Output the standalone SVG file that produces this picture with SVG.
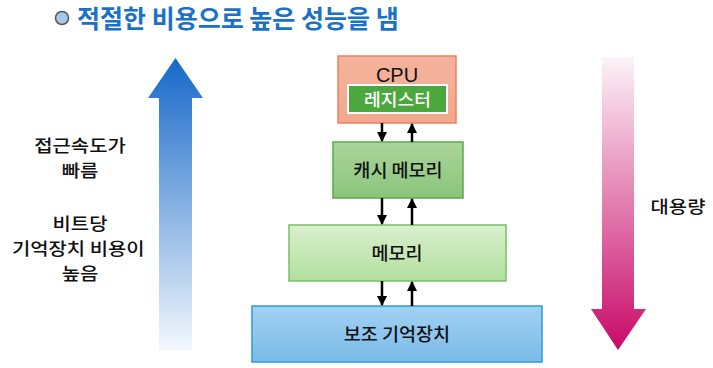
<svg xmlns="http://www.w3.org/2000/svg" width="713" height="368" viewBox="0 0 713 368">
<style>
text{font-family:"Noto Sans CJK KR","Noto Sans",sans-serif;fill:#111;}
.lbl{font-size:18.5px;text-anchor:middle;font-weight:500;}
.side{font-size:17px;text-anchor:middle;font-weight:500;}
.conn line{stroke:#000;stroke-width:2.5;}
</style>
<defs>
<marker id="ah" viewBox="0 0 10 10" refX="9" refY="5" markerWidth="4" markerHeight="4" orient="auto" markerUnits="strokeWidth">
<path d="M0,0 L10,5 L0,10 z" fill="#000"/>
</marker>
<linearGradient id="gBlue" x1="0" y1="0" x2="0" y2="1">
<stop offset="0" stop-color="#1668c9"/>
<stop offset="1" stop-color="#f3f8fd"/>
</linearGradient>
<linearGradient id="gPink" x1="0" y1="0" x2="0" y2="1">
<stop offset="0" stop-color="#fdf3f8"/>
<stop offset="1" stop-color="#c80a68"/>
</linearGradient>
<linearGradient id="gCpu" x1="0" y1="0" x2="0" y2="1">
<stop offset="0" stop-color="#f4b39c"/>
<stop offset="1" stop-color="#f2a88f"/>
</linearGradient>
<linearGradient id="gCache" x1="0" y1="0" x2="0" y2="1">
<stop offset="0" stop-color="#a9d59a"/>
<stop offset="1" stop-color="#8cc47c"/>
</linearGradient>
<linearGradient id="gMem" x1="0" y1="0" x2="0" y2="1">
<stop offset="0" stop-color="#daf0cf"/>
<stop offset="1" stop-color="#b2df9d"/>
</linearGradient>
<linearGradient id="gAux" x1="0" y1="0" x2="0" y2="1">
<stop offset="0" stop-color="#a2d1f3"/>
<stop offset="1" stop-color="#7bbbe8"/>
</linearGradient>
</defs>
<rect width="713" height="368" fill="#fff"/>

<g id="title">
<circle cx="62" cy="18" r="6.5" fill="#a6c8ea" stroke="#555" stroke-width="1.5"/>
<text x="77" y="28" style="font-size:25px;font-weight:bold;fill:#1a72c8;">적절한 비용으로 높은 성능을 냄</text>
</g>

<g id="speed-arrow">
<polygon points="175.5,58 203,98 192,98 192,350 159,350 159,98 148,98" fill="url(#gBlue)"/>
</g>
<g id="capacity-arrow">
<polygon points="602,57 634,57 634,309 646,309 618,350 591,309 602,309" fill="url(#gPink)"/>
</g>

<g id="left-labels" transform="translate(80,0) scale(1.17,1)">
<text class="side" x="0" y="152">접근속도가</text>
<text class="side" x="0" y="177">빠름</text>
<text class="side" x="0" y="230">비트당</text>
<text class="side" x="-1.5" y="255">기억장치 비용이</text>
<text class="side" x="0" y="280">높음</text>
</g>
<g id="right-label" transform="translate(678,0) scale(1.17,1)">
<text class="side" x="0" y="213">대용량</text>
</g>

<g id="cpu">
<rect x="338" y="56" width="118" height="67" fill="url(#gCpu)" stroke="#e8825e" stroke-width="1.5"/>
<text x="397" y="81.5" style="font-family:'Liberation Sans',Arial,sans-serif;font-size:20px;text-anchor:middle;">CPU</text>
</g>
<g id="register">
<rect x="348" y="85" width="99" height="28" fill="#4ca83c" stroke="#fff" stroke-width="2"/>
<g transform="translate(397.5,0) scale(1.07,1)">
<text class="lbl" x="0" y="106.5" style="fill:#fff;font-size:17px;">레지스터</text>
</g>
</g>
<g id="cache">
<rect x="333" y="142" width="130" height="56" fill="url(#gCache)" stroke="#5ca94b" stroke-width="1.5"/>
<text class="lbl" x="398" y="177">캐시 메모리</text>
</g>
<g id="memory">
<rect x="289" y="225" width="217" height="56" fill="url(#gMem)" stroke="#79c064" stroke-width="1.5"/>
<text class="lbl" x="397" y="260">메모리</text>
</g>
<g id="storage">
<rect x="252" y="306" width="290" height="56" fill="url(#gAux)" stroke="#2e9ad6" stroke-width="1.5"/>
<text class="lbl" x="397" y="341">보조 기억장치</text>
</g>

<g id="connectors" class="conn">
<line x1="382" y1="123" x2="382" y2="141" marker-end="url(#ah)"/>
<line x1="412" y1="142" x2="412" y2="124" marker-end="url(#ah)"/>
<line x1="382" y1="198" x2="382" y2="224" marker-end="url(#ah)"/>
<line x1="412" y1="225" x2="412" y2="199" marker-end="url(#ah)"/>
<line x1="382" y1="281" x2="382" y2="305" marker-end="url(#ah)"/>
<line x1="412" y1="306" x2="412" y2="282" marker-end="url(#ah)"/>
</g>
</svg>
